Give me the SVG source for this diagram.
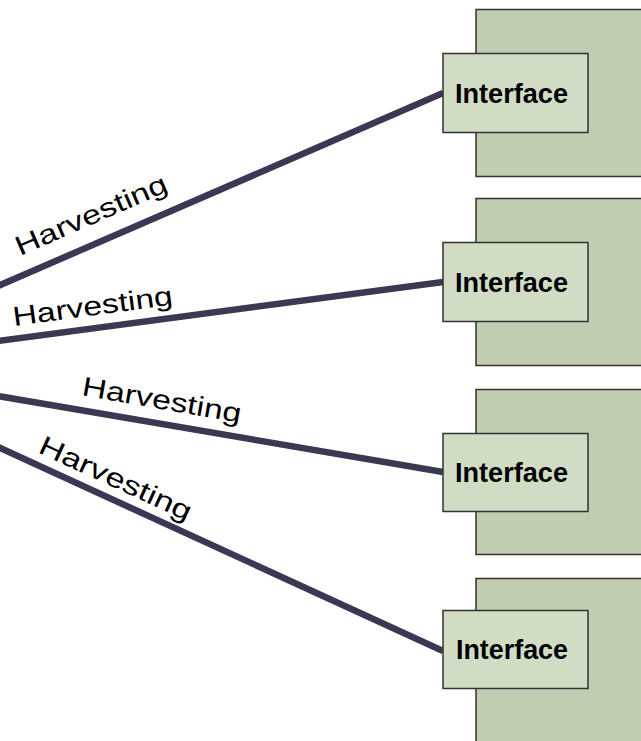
<svg xmlns="http://www.w3.org/2000/svg" width="641" height="741" viewBox="0 0 641 741">
<style>
.big{fill:#c0cdb1;stroke:#333;stroke-width:1.5}
.ifc{fill:#d0dcc4;stroke:#333;stroke-width:1.5}
.ifct{font-family:"Liberation Sans",Arial,sans-serif;font-weight:bold;font-size:27px;fill:#000}
.lbl{font-family:"Liberation Sans",Arial,sans-serif;font-size:27px;fill:#000}
.conn{stroke:#3a3852;stroke-width:6.5;fill:none}
</style>
<rect width="641" height="741" fill="#fff"/>
<g id="connectors">
<line class="conn" x1="-2" y1="286" x2="443" y2="93"/>
<line class="conn" x1="-2" y1="341" x2="443" y2="282"/>
<line class="conn" x1="-2" y1="396" x2="443" y2="472"/>
<line class="conn" x1="-2" y1="447" x2="443" y2="651"/>
<text class="lbl" transform="translate(20,256) rotate(-23.6)" textLength="163" lengthAdjust="spacingAndGlyphs">Harvesting</text>
<text class="lbl" transform="translate(14,326) rotate(-7.7)" textLength="161" lengthAdjust="spacingAndGlyphs">Harvesting</text>
<text class="lbl" transform="translate(81,395) rotate(9.9)" textLength="161" lengthAdjust="spacingAndGlyphs">Harvesting</text>
<text class="lbl" transform="translate(37,452) rotate(24.8)" textLength="165" lengthAdjust="spacingAndGlyphs">Harvesting</text>
</g>
<g id="node1">
<rect class="big" x="476" y="9.5" width="170" height="167"/>
<rect class="ifc" x="443" y="53.5" width="145" height="79"/>
<text class="ifct" x="455" y="103" textLength="113" lengthAdjust="spacingAndGlyphs">Interface</text>
</g>
<g id="node2">
<rect class="big" x="476" y="198.5" width="170" height="167"/>
<rect class="ifc" x="443" y="242.5" width="145" height="79"/>
<text class="ifct" x="455" y="292" textLength="113" lengthAdjust="spacingAndGlyphs">Interface</text>
</g>
<g id="node3">
<rect class="big" x="476" y="389.5" width="170" height="165"/>
<rect class="ifc" x="443" y="433.5" width="145" height="78"/>
<text class="ifct" x="455" y="482" textLength="113" lengthAdjust="spacingAndGlyphs">Interface</text>
</g>
<g id="node4">
<rect class="big" x="476" y="578.5" width="170" height="170"/>
<rect class="ifc" x="443" y="610.5" width="145" height="78"/>
<text class="ifct" x="456" y="659" textLength="112" lengthAdjust="spacingAndGlyphs">Interface</text>
</g>
</svg>
